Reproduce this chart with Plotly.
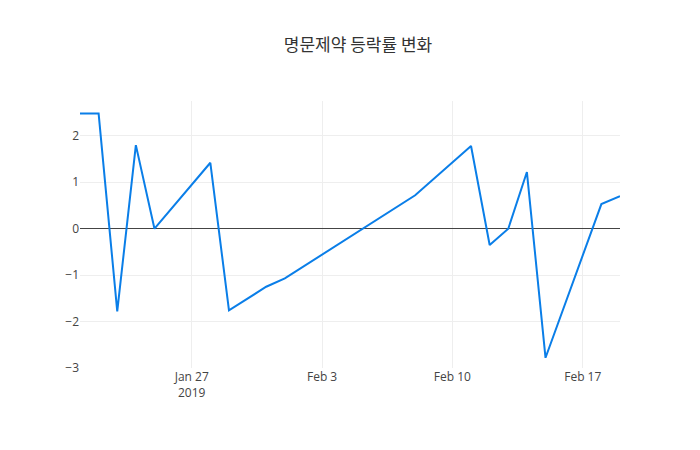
import plotly.graph_objects as go

dates = ["2019-01-21","2019-01-22","2019-01-23","2019-01-24","2019-01-25","2019-01-28","2019-01-29",
         "2019-01-31","2019-02-01","2019-02-08","2019-02-11","2019-02-12","2019-02-13","2019-02-14",
         "2019-02-15","2019-02-18","2019-02-19"]
rates = [2.48,2.48,-1.78,1.8,0.0,1.42,-1.76,-1.25,-1.07,0.72,1.78,-0.35,0.0,1.22,-2.78,0.53,0.7]

fig = go.Figure(go.Scatter(x=dates, y=rates, mode="lines", line=dict(color="#0a7ee8", width=2)))
fig.update_layout(
    width=700, height=450,
    title=dict(text="명문제약 등락률 변화", x=0.5, xanchor="center", y=0.918, yanchor="middle", yref="container",
               font=dict(family="Noto Sans CJK KR", size=17, color="#333")),
    plot_bgcolor="white", paper_bgcolor="white",
    margin=dict(l=72, r=88, t=93, b=90),
    font=dict(family="Open Sans", color="#444"),
    xaxis=dict(showgrid=True, gridcolor="#eee", range=["2019-01-21","2019-02-19"]),
    yaxis=dict(showgrid=True, gridcolor="#eee", range=[-3, 2.75], dtick=1,
               zeroline=True, zerolinecolor="#444", zerolinewidth=1),
)
fig.write_html("out.html")
